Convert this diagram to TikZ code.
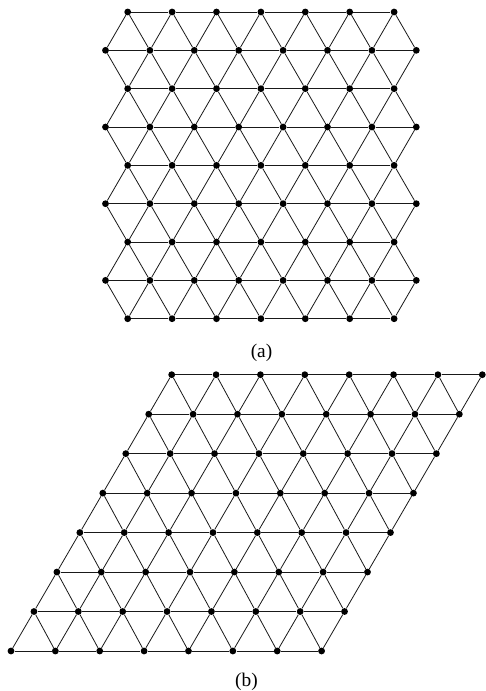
\documentclass[tikz,border=0pt]{standalone}
\usepackage{fontspec}
\setmainfont{Liberation Serif}
\usetikzlibrary{positioning}

\begin{document}
\begin{tikzpicture}[
    x=0.75pt, y=-0.75pt,
    dot/.style={circle, fill=black, inner sep=0pt, minimum size=5.1pt},
    edge/.style={draw=black!90, line width=0.6pt},
    caption/.style={font=\fontsize{14.5}{17}\selectfont},
]
\useasboundingbox (0,0) rectangle (485,691);

% Lattice (a): rows of 7 and 8 points
\foreach \r in {0,...,8} {
    \pgfmathtruncatemacro{\wide}{mod(\r,2)}
    \pgfmathtruncatemacro{\last}{6+\wide}
    \foreach \i in {0,...,\last}
        \node[dot] (a-\r-\i) at ({127.7-22.2*\wide+44.4*\i}, {12+38.34*\r}) {};
}

% (a) horizontal edges
\foreach \r in {0,...,8} {
    \pgfmathtruncatemacro{\last}{5+mod(\r,2)}
    \foreach \i in {0,...,\last} {
        \pgfmathtruncatemacro{\j}{\i+1}
        \draw[edge] (a-\r-\i) -- (a-\r-\j);
    }
}

% (a) slanted edges
\foreach \w in {1,3,5,7} {
    \pgfmathtruncatemacro{\up}{\w-1}
    \pgfmathtruncatemacro{\dn}{\w+1}
    \foreach \i in {0,...,6} {
        \pgfmathtruncatemacro{\j}{\i+1}
        \draw[edge] (a-\up-\i) -- (a-\w-\i) -- (a-\dn-\i);
        \draw[edge] (a-\up-\i) -- (a-\w-\j) -- (a-\dn-\i);
    }
}

% Lattice (b): rhombus, 8 x 8 points
\foreach \r in {0,...,7}
    \foreach \i in {0,...,7}
        \node[dot] (b-\r-\i) at ({171.7-22.96*\r+44.37*\i}, {374.7+39.47*\r}) {};

% (b) horizontal edges
\foreach \r in {0,...,7}
    \foreach \i in {0,...,6} {
        \pgfmathtruncatemacro{\j}{\i+1}
        \draw[edge] (b-\r-\i) -- (b-\r-\j);
    }

% (b) slanted edges
\foreach \r in {0,...,6} {
    \pgfmathtruncatemacro{\s}{\r+1}
    \foreach \i in {0,...,7} {
        \pgfmathtruncatemacro{\j}{\i+1}
        \draw[edge] (b-\r-\i) -- (b-\s-\i);
        \ifnum\i<7 \draw[edge] (b-\r-\i) -- (b-\s-\j); \fi
    }
}

% Captions
\node[caption] (capa) at (261.5,353) {(a)};
\node[caption] (capb) at (246.5,682) {(b)};

\end{tikzpicture}
\end{document}
